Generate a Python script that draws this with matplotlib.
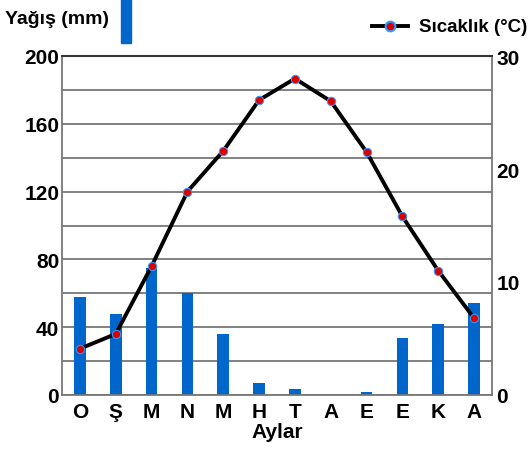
import matplotlib.pyplot as plt
from matplotlib.lines import Line2D
from matplotlib.patches import Rectangle

months = ['O', 'Ş', 'M', 'N', 'M', 'H', 'T', 'A', 'E', 'E', 'K', 'A']
rain = [58, 48, 75, 60, 36, 7, 3.5, 0, 2, 33.5, 42, 54.5]
temp = [4.1, 5.4, 11.4, 18, 21.6, 26.1, 28, 26, 21.5, 15.8, 11, 6.8]
rain_ticks = [0, 40, 80, 120, 160, 200]
temp_ticks = [0, 10, 20, 30]

plt.rcParams['font.family'] = ['Liberation Sans', 'DejaVu Sans']
plt.rcParams['font.weight'] = 'bold'
plt.rcParams['axes.labelweight'] = 'bold'

BLUE = '#0066cc'
GRID = '#777777'

fig = plt.figure(figsize=(5.3, 4.52), dpi=100)
ax = fig.add_axes([62 / 530, 56 / 452, 430 / 530, 339 / 452])
x = range(len(months))

ax.bar(x, rain, width=0.33, color=BLUE, zorder=2)
ax.set_xlim(-0.5, 11.5)
ax.set_ylim(0, 200)
ax.set_yticks(rain_ticks)
ax.set_yticks(range(0, 201, 20), minor=True)
ax.yaxis.grid(True, which='both', color=GRID, linewidth=1.3, zorder=0)
ax.set_axisbelow(True)
ax.tick_params(axis='y', which='both', length=0, labelsize=15, pad=2)
ax.set_xticks(list(x))
ax.set_xticklabels(months)
ax.tick_params(axis='x', length=0, labelsize=15, pad=5)
ax.set_xlabel('Aylar', fontsize=15, labelpad=1)
for s in ['left', 'right', 'bottom']:
    ax.spines[s].set_color(GRID)
    ax.spines[s].set_linewidth(1.3)
ax.spines['top'].set_color('#333333')
ax.spines['top'].set_linewidth(1.5)

ax2 = ax.twinx()
ax2.plot(x, temp, color='black', linewidth=2.8, marker='o', markersize=6,
         markerfacecolor='#dd0000', markeredgecolor='#3399ff', markeredgewidth=0.8, zorder=3)
ax2.set_ylim(0, 30)
ax2.set_yticks(temp_ticks)
ax2.tick_params(axis='y', length=0, labelsize=15, pad=3)
for s in ax2.spines.values():
    s.set_visible(False)

# legend
fig.text(5 / 530, 1 - 20 / 452, 'Yağış (mm)', fontsize=14, va='center', ha='left')
fig.patches.append(Rectangle((121 / 530, 1 - 44 / 452), 10 / 530, 44 / 452,
                             transform=fig.transFigure, color=BLUE))
fig.lines.append(Line2D([372 / 530, 408 / 530], [1 - 27 / 452] * 2, transform=fig.transFigure,
                        color='black', linewidth=2.8))
fig.lines.append(Line2D([390 / 530], [1 - 27 / 452], transform=fig.transFigure, marker='o',
                        markersize=7, markerfacecolor='#dd0000', markeredgecolor='#3399ff',
                        markeredgewidth=1.5))
fig.text(527 / 530, 1 - 27 / 452, 'Sıcaklık (°C)', fontsize=13.5, va='center', ha='right')

fig.savefig('out.png', dpi=100)
